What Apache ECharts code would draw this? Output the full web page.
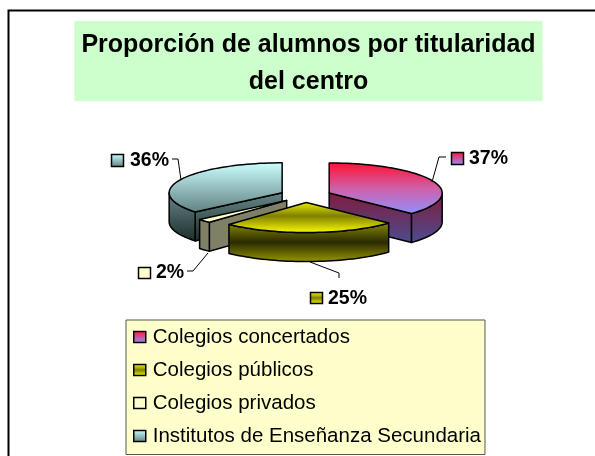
<!DOCTYPE html>
<html>
<head>
<meta charset="utf-8">
<style>html,body{margin:0;padding:0;background:#fff}#c{width:595px;height:456px}</style>
<script src="https://cdn.jsdelivr.net/npm/echarts@6/dist/echarts.min.js"></script>
</head>
<body>
<div id="c"></div>
<script>
var categories = ['Colegios concertados', 'Colegios públicos', 'Colegios privados', 'Institutos de Enseñanza Secundaria'];
var shares = [37, 25, 2, 36];
var titleText = 'Proporción de alumnos por titularidad\ndel centro';

var FONT = '"Liberation Sans", Arial, sans-serif';
var pie = { cx: 305.5, cy: 195.7, rx: 113, ry: 30, depth: 29, explode: 25.8 };
var zOrder = [2, 4, 3, 1];

function grad(stops) {
  return new echarts.graphic.LinearGradient(0, 0, 0, 1, stops.map(function (s) { return { offset: s[0], color: s[1] }; }));
}
var palette = [
  { top: [[0, '#ff1030'], [0.5, '#d060a8'], [1, '#9090ff']], wall: [[0, '#801c3c'], [1, '#4c4c90']], key: [[0, '#ff1838'], [1, '#9090ff']] },
  { top: [[0, '#f0f000'], [0.45, '#808000'], [1, '#ffff00']], wall: [[0, '#8c8c00'], [0.5, '#2a2a00'], [1, '#989800']], key: [[0, '#ffff00'], [0.5, '#808000'], [1, '#ffff00']] },
  { top: [[0, '#ffffcc'], [1, '#ffffcc']], wall: [[0, '#808066'], [1, '#808066']], key: [[0, '#ffffcc'], [1, '#ffffcc']] },
  { top: [[0, '#ccffff'], [1, '#608080']], wall: [[0, '#688888'], [1, '#1c2c2c']], key: [[0, '#ccffff'], [1, '#608080']] }
];
var labelLayout = [
  { key: [451, 152, 12, 12], text: [469, 159], leader: [[432, 182], [439, 157], [446, 157]] },
  { key: [310, 292, 12, 11], text: [328, 299], leader: [[310, 262], [339, 273], [339, 278]] },
  { key: [138, 267, 12, 11], text: [156, 273], leader: [[208, 253], [193, 271], [187, 271]] },
  { key: [111, 154, 12, 12], text: [130, 161], leader: [[181, 180], [178, 159], [172, 159]] }
];

var total = shares.reduce(function (a, b) { return a + b; }, 0);
function startAngle(i) {
  var sum = 0;
  for (var k = 0; k < i; k++) sum += shares[k];
  return sum / total * Math.PI * 2;
}
function renderSlice(i) {
  return function (params, api) {
    var value = api.value(0);
    var a0 = startAngle(i), a1 = a0 + value / total * Math.PI * 2, mid = (a0 + a1) / 2;
    var k = pie.ry / pie.rx;
    var ox = pie.cx + pie.explode * Math.sin(mid), oy = pie.cy - pie.explode * k * Math.cos(mid);
    function pt(a, dz) { return [ox + pie.rx * Math.sin(a), oy - pie.ry * Math.cos(a) + (dz || 0)]; }
    function arc(from, to) {
      var n = Math.max(2, Math.ceil(Math.abs(to - from) / 0.04)), out = [];
      for (var j = 0; j <= n; j++) out.push(pt(from + (to - from) * j / n));
      return out;
    }
    var c = palette[i], children = [];
    function poly(points, stops) {
      children.push({ type: 'polygon', shape: { points: points }, style: { fill: grad(stops), stroke: '#000', lineWidth: 1.5, lineJoin: 'round' }, silent: true });
    }
    function edgeWall(a) {
      var p = pt(a);
      poly([[ox, oy], p, [p[0], p[1] + pie.depth], [ox, oy + pie.depth]], c.wall);
    }
    if (Math.sin(a0) < -1e-6) edgeWall(a0);
    if (Math.sin(a1) > 1e-6) edgeWall(a1);
    var f0 = Math.max(a0, Math.PI / 2), f1 = Math.min(a1, Math.PI * 1.5);
    if (f1 > f0) {
      var front = arc(f0, f1);
      var back = front.map(function (p) { return [p[0], p[1] + pie.depth]; }).reverse();
      poly(front.concat(back), c.wall);
    }
    poly([[ox, oy]].concat(arc(a0, a1)), c.top);

    var lay = labelLayout[i];
    children.push({ type: 'polyline', shape: { points: lay.leader }, style: { fill: 'none', stroke: '#000', lineWidth: 1 }, silent: true });
    children.push({ type: 'rect', shape: { x: lay.key[0] + 0.5, y: lay.key[1] + 0.5, width: lay.key[2], height: lay.key[3] }, style: { fill: grad(c.key), stroke: '#000', lineWidth: 1.5 }, silent: true });
    children.push({ type: 'text', x: lay.text[0], y: lay.text[1], style: { text: Math.round(value) + '%', fill: '#000', font: 'bold 19.5px ' + FONT, textAlign: 'left', textVerticalAlign: 'middle' }, silent: true });
    return { type: 'group', children: children };
  };
}

var chart = echarts.init(document.getElementById('c'), null, { renderer: 'canvas' });
chart.setOption({
  animation: false,
  backgroundColor: '#ffffff',
  title: {
    text: titleText,
    left: 301.5,
    top: 21,
    textAlign: 'center',
    backgroundColor: '#ccffcc',
    padding: [6, 7, 0, 7],
    textStyle: { fontFamily: FONT, fontSize: 25, fontWeight: 'bold', color: '#000', lineHeight: 37 }
  },
  legend: {
    orient: 'vertical',
    left: 126,
    top: 320,
    padding: [6.5, 4, 8, 7],
    itemGap: 12,
    itemWidth: 12,
    itemHeight: 11,
    icon: 'rect',
    backgroundColor: '#ffffcc',
    borderColor: '#555',
    borderWidth: 1,
    selectedMode: false,
    textStyle: { fontFamily: FONT, fontSize: 20.5, color: '#000', padding: [0, 0, 0, 2] },
    data: categories.map(function (name, i) {
      return { name: name, itemStyle: { color: grad(palette[i].key), borderColor: '#000', borderWidth: 1.5 } };
    })
  },
  graphic: [{
    type: 'polyline', z: -1, silent: true,
    shape: { points: [[8.5, 456], [8.5, 10.5], [595, 10.5]] },
    style: { fill: 'none', stroke: '#000', lineWidth: 2 }
  }],
  series: categories.map(function (name, i) {
    return {
      type: 'custom', name: name, coordinateSystem: 'none', z: zOrder[i], silent: true,
      itemStyle: { color: palette[i].key[0][1] },
      renderItem: renderSlice(i),
      data: [[shares[i]]]
    };
  })
});
</script>
</body>
</html>
